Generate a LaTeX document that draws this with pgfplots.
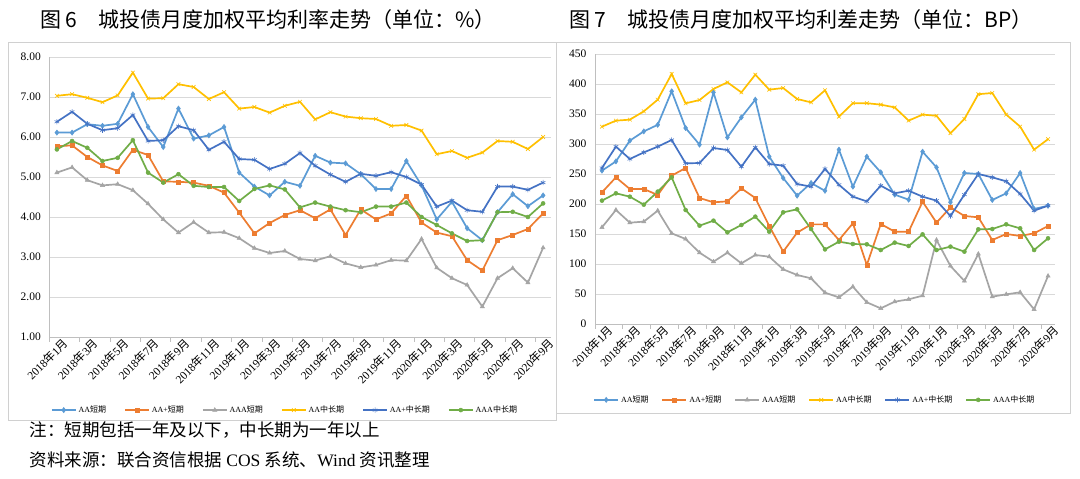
\documentclass[border=0pt]{standalone}
\usepackage{fontspec}
\setmainfont{Liberation Serif}
\newfontfamily\cjk{Noto Sans CJK SC}
\usepackage{pgfplots}
\usepackage{pgfplotstable}
\pgfplotsset{compat=1.18}
\definecolor{cAA}{HTML}{5B9BD5}
\definecolor{cAAp}{HTML}{ED7D31}
\definecolor{cAAA}{HTML}{A5A5A5}
\definecolor{cAAm}{HTML}{FFC000}
\definecolor{cAApm}{HTML}{4472C4}
\definecolor{cAAAm}{HTML}{70AD47}
\definecolor{gridgray}{HTML}{D9D9D9}
\definecolor{axgray}{HTML}{BFBFBF}
\definecolor{framegray}{HTML}{D0D0D0}
\newcommand{\ym}[2]{#1{\cjk 年}#2{\cjk 月}}

\pgfplotstableread{
i AA AAp AAA AAm AApm AAAm
0 6.11 5.77 5.11 7.03 6.38 5.69
1 6.11 5.79 5.24 7.07 6.63 5.90
2 6.32 5.50 4.92 6.98 6.33 5.73
3 6.28 5.29 4.79 6.87 6.17 5.40
4 6.33 5.15 4.82 7.04 6.22 5.48
5 7.07 5.68 4.67 7.61 6.55 5.92
6 6.25 5.55 4.33 6.96 5.90 5.11
7 5.75 4.89 3.94 6.97 5.92 4.86
8 6.71 4.88 3.61 7.32 6.27 5.07
9 5.96 4.86 3.87 7.25 6.17 4.78
10 6.04 4.78 3.61 6.95 5.68 4.75
11 6.25 4.61 3.62 7.12 5.88 4.75
12 5.11 4.11 3.47 6.71 5.45 4.40
13 4.76 3.59 3.22 6.75 5.43 4.70
14 4.54 3.85 3.10 6.61 5.20 4.79
15 4.88 4.05 3.15 6.78 5.33 4.69
16 4.78 4.17 2.95 6.88 5.60 4.24
17 5.53 3.97 2.91 6.44 5.28 4.36
18 5.36 4.19 3.02 6.62 5.06 4.26
19 5.34 3.55 2.84 6.51 4.88 4.17
20 5.07 4.19 2.74 6.47 5.08 4.12
21 4.70 3.94 2.80 6.45 5.03 4.26
22 4.70 4.09 2.92 6.28 5.12 4.26
23 5.40 4.53 2.91 6.30 5.00 4.36
24 4.79 3.86 3.45 6.16 4.81 4.00
25 3.94 3.61 2.73 5.57 4.26 3.80
26 4.38 3.52 2.47 5.65 4.41 3.59
27 3.72 2.92 2.30 5.48 4.17 3.40
28 3.42 2.66 1.76 5.61 4.13 3.42
29 4.12 3.42 2.47 5.90 4.76 4.12
30 4.57 3.55 2.72 5.88 4.76 4.13
31 4.27 3.70 2.36 5.70 4.68 4.00
32 4.54 4.09 3.23 6.00 4.86 4.34
}\rates

\pgfplotstableread{
i AA AAp AAA AAm AApm AAAm
0 255.6 219.4 161.1 328.9 260.0 205.6
1 271.0 244.4 190.0 338.9 295.6 217.8
2 305.6 225.0 168.9 340.6 275.0 212.2
3 321.0 225.0 170.6 354.4 286.0 198.9
4 332.0 215.0 188.9 373.9 295.6 220.6
5 387.8 247.2 151.1 416.7 306.7 244.4
6 326.7 260.0 141.7 367.8 267.8 190.0
7 298.9 210.0 118.9 373.3 268.3 163.9
8 386.0 202.8 103.9 391.7 293.3 172.2
9 311.0 204.4 118.9 402.8 290.0 152.8
10 344.4 226.0 101.1 386.0 262.2 165.0
11 373.9 210.0 115.0 415.6 294.4 178.9
12 278.9 163.3 112.2 390.6 266.7 153.9
13 243.3 120.6 91.1 393.3 263.9 186.1
14 213.9 152.2 81.7 375.0 233.3 191.1
15 235.0 166.0 76.1 369.4 228.9 158.3
16 222.0 166.0 52.2 389.5 258.5 124.4
17 290.6 140.0 44.4 345.6 232.0 137.2
18 228.9 167.8 62.2 368.0 212.2 133.3
19 278.9 98.3 36.1 368.0 204.4 132.8
20 252.8 166.7 26.1 365.6 230.6 123.3
21 215.6 153.9 37.2 361.0 217.8 135.6
22 207.2 153.9 41.1 339.0 222.2 130.0
23 287.2 203.9 47.2 349.0 212.2 149.4
24 261.0 168.9 140.0 347.0 205.6 123.3
25 203.0 194.4 96.7 318.0 180.0 128.9
26 251.7 180.0 71.7 341.7 215.6 120.6
27 250.0 177.8 116.7 383.0 250.0 157.8
28 206.7 140.0 45.6 385.0 244.4 158.3
29 217.8 150.0 49.4 349.0 237.8 166.1
30 251.7 146.7 52.8 329.0 216.7 159.4
31 191.7 151.1 24.4 290.6 188.9 123.3
32 197.2 163.3 80.0 308.0 197.2 142.8
}\spreads

\pgfplotsset{
  common/.style={
    scale only axis,
    anchor=south west,
    xmin=-0.5, xmax=32.5,
    axis x line*=bottom, axis y line*=left,
    axis line style={draw=axgray, line width=0.9pt, -},
    ymajorgrids, grid style={draw=gridgray, line width=0.9pt},
    major tick length=0pt,
    xtick={0,2,...,32},
    xticklabels={\ym{2018}{1},\ym{2018}{3},\ym{2018}{5},\ym{2018}{7},\ym{2018}{9},\ym{2018}{11},\ym{2019}{1},\ym{2019}{3},\ym{2019}{5},\ym{2019}{7},\ym{2019}{9},\ym{2019}{11},\ym{2020}{1},\ym{2020}{3},\ym{2020}{5},\ym{2020}{7},\ym{2020}{9}},
    xticklabel style={rotate=45, anchor=north east, font=\fontsize{11.5}{12}\selectfont, inner sep=0.5pt, yshift=-3pt, xshift=4pt},
    extra x ticks={-0.5,1.5,...,31.5},
    extra x tick labels={},
    extra x tick style={major tick length=5pt, tick align=outside, tick style={draw=axgray, line width=0.9pt}},
    yticklabel style={font=\fontsize{11.5}{12}\selectfont, xshift=-5pt},
    /pgf/number format/assume math mode=true,
    legend columns=6,
    legend cell align=left,
    legend style={draw=none, fill=none, font=\fontsize{8}{9}\selectfont, inner sep=0pt},
    legend image code/.code={\draw[mark repeat=2,mark phase=2,##1] plot coordinates {(0pt,0pt) (12pt,0pt) (24pt,0pt)};},
    every axis plot/.append style={line width=1.7pt},
  },
  sAA/.style={cAA, mark=diamond*, mark size=2.6pt, mark options={solid, fill=cAA, line width=0.5pt}},
  sAAp/.style={cAAp, mark=square*, mark size=2.0pt, mark options={solid, fill=cAAp, line width=0.5pt}},
  sAAA/.style={cAAA, mark=triangle*, mark size=2.4pt, mark options={solid, fill=cAAA, line width=0.5pt}},
  sAAm/.style={cAAm, mark=x, mark size=2.6pt, mark options={solid, line width=0.6pt}},
  sAApm/.style={cAApm, mark=asterisk, mark size=2.6pt, mark options={solid, line width=0.6pt}},
  sAAAm/.style={cAAAm, mark=*, mark size=2.0pt, mark options={solid, fill=cAAAm, line width=0.5pt}},
}

\begin{document}
\begin{tikzpicture}
\path[use as bounding box] (0pt,0pt) rectangle (1080pt,479pt);
\fill[white] (0pt,0pt) rectangle (1080pt,479pt);
\draw[framegray, line width=0.9pt] (8pt,59pt) rectangle (556pt,437pt);
\draw[framegray, line width=0.9pt] (556pt,66pt) rectangle (1070pt,437pt);

\node[font=\cjk\fontsize{21}{23}\selectfont] at (268pt,459pt) {图 6\quad 城投债月度加权平均利率走势（单位：\%）};
\node[font=\cjk\fontsize{21}{23}\selectfont] at (801pt,459pt) {图 7\quad 城投债月度加权平均利差走势（单位：BP）};

\begin{axis}[common,
  at={(49.3pt,142pt)}, width=501.4pt, height=280pt,
  ymin=1, ymax=8, ytick={1,2,...,8},
  yticklabel={\pgfmathprintnumber[fixed,fixed zerofill,precision=2]{\tick}},
  legend style={at={(0.47,-0.261)}, anchor=center,
    /tikz/every even column/.append style={column sep=16pt}},
]
\addplot[sAA] table[x=i,y=AA]{\rates};
\addlegendentry{AA{\cjk 短期}}
\addplot[sAAp] table[x=i,y=AAp]{\rates};
\addlegendentry{AA+{\cjk 短期}}
\addplot[sAAA] table[x=i,y=AAA]{\rates};
\addlegendentry{AAA{\cjk 短期}}
\addplot[sAAm] table[x=i,y=AAm]{\rates};
\addlegendentry{AA{\cjk 中长期}}
\addplot[sAApm] table[x=i,y=AApm]{\rates};
\addlegendentry{AA+{\cjk 中长期}}
\addplot[sAAAm] table[x=i,y=AAAm]{\rates};
\addlegendentry{AAA{\cjk 中长期}}
\end{axis}

\begin{axis}[common,
  at={(595pt,155pt)}, width=460pt, height=270pt,
  ymin=0, ymax=450, ytick={0,50,...,450},
  legend style={at={(0.478,-0.281)}, anchor=center,
    /tikz/every even column/.append style={column sep=11pt}},
]
\addplot[sAA] table[x=i,y=AA]{\spreads};
\addlegendentry{AA{\cjk 短期}}
\addplot[sAAp] table[x=i,y=AAp]{\spreads};
\addlegendentry{AA+{\cjk 短期}}
\addplot[sAAA] table[x=i,y=AAA]{\spreads};
\addlegendentry{AAA{\cjk 短期}}
\addplot[sAAm] table[x=i,y=AAm]{\spreads};
\addlegendentry{AA{\cjk 中长期}}
\addplot[sAApm] table[x=i,y=AApm]{\spreads};
\addlegendentry{AA+{\cjk 中长期}}
\addplot[sAAAm] table[x=i,y=AAAm]{\spreads};
\addlegendentry{AAA{\cjk 中长期}}
\end{axis}

\node[anchor=west, font=\cjk\fontsize{17.5}{19}\selectfont] at (26pt,49pt) {注：短期包括一年及以下，中长期为一年以上};
\node[anchor=west, font=\fontsize{17.5}{19}\selectfont] at (26pt,19pt) {{\cjk 资料来源：联合资信根据} COS {\cjk 系统、}Wind {\cjk 资讯整理}};
\end{tikzpicture}
\end{document}
